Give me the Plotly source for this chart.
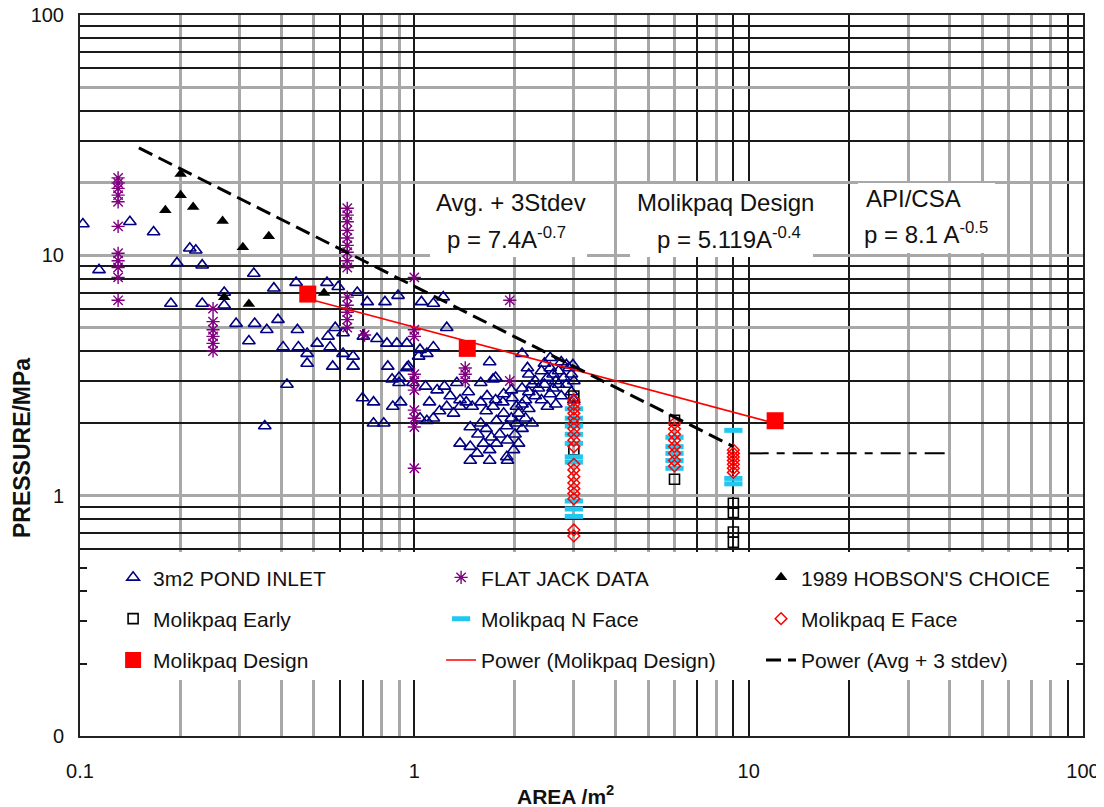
import plotly.graph_objects as go

# ---------------- data ----------------
pond_area = [0.102, 0.141, 0.166, 0.114, 0.195, 0.213, 0.222, 0.232, 0.331, 0.187,
             0.232, 0.27, 0.27, 0.38, 0.443, 0.548, 0.293, 0.333, 0.362, 0.391,
             0.447, 0.32, 0.405, 0.45, 0.478, 0.478, 0.512, 0.552, 0.56, 0.57,
             0.416, 0.357, 0.592, 0.675, 0.723, 0.817, 0.894, 0.58, 0.612, 0.612,
             0.656, 0.656, 0.704, 0.773, 0.828, 0.886, 0.95, 0.70, 0.755, 0.833,
             0.858, 0.9, 0.96, 0.862, 0.91, 0.755, 0.81, 1.03, 1.05, 1.14,
             1.22, 1.25, 1.04, 1.09, 1.14, 0.9, 0.95, 0.99, 1.08, 1.11,
             1.17, 1.23, 1.28, 1.34, 1.37, 1.45, 1.58, 1.72, 1.04, 1.09,
             1.14, 1.19, 1.25, 1.31, 1.37, 1.43, 1.49, 1.58, 1.64, 1.72,
             1.84, 1.96, 2.02, 1.37, 1.47, 1.54, 1.61, 1.68, 1.76, 1.89,
             1.98, 1.47, 1.58, 1.64, 1.76, 1.89, 2.02, 1.47, 1.68, 1.9,
             1.68, 1.75, 2.1, 2.18, 2.55, 2.98, 2.2, 2.3, 2.35, 2.4,
             2.45, 2.5, 2.55, 2.6, 2.6, 2.65, 2.7, 2.75, 2.8, 2.85,
             2.9, 2.95, 2.95, 3.0, 2.3, 2.4, 2.5, 2.2, 2.7, 2.85,
             2.45, 2.55, 2.75, 3.0, 2.65, 2.25, 2.15, 2.1, 1.65, 1.75,
             1.85, 1.95, 2.05, 2.1, 2.15, 2.2, 1.8, 1.9, 2.0, 2.1,
             1.7, 2.05, 1.55, 2.25, 1.95, 1.85]
pond_pressure = [13.5, 13.8, 12.5, 8.7, 9.3, 10.7, 10.5, 9.1, 8.4, 6.3,
                 6.3, 7.0, 6.2, 7.3, 7.7, 7.7, 5.2, 5.2, 4.9, 5.4,
                 4.9, 4.4, 4.15, 4.15, 3.9, 3.55, 4.3, 4.6, 4.15, 3.45,
                 2.9, 1.95, 7.4, 7.0, 6.4, 6.4, 6.8, 5.0, 4.75, 3.9,
                 3.8, 3.45, 4.6, 4.5, 4.3, 4.3, 4.3, 2.55, 2.45, 3.45,
                 3.05, 3.1, 3.45, 2.35, 2.45, 2.0, 2.0, 3.8, 6.4, 6.3,
                 6.7, 5.0, 4.05, 3.9, 4.15, 2.95, 3.4, 2.95, 2.85, 2.45,
                 2.75, 2.85, 2.6, 2.95, 2.5, 2.7, 2.95, 3.05, 2.1, 2.05,
                 2.1, 2.25, 2.35, 2.2, 2.35, 2.45, 2.35, 2.45, 2.25, 2.35,
                 2.45, 2.55, 2.35, 1.65, 1.6, 1.5, 1.65, 1.55, 1.65, 1.45,
                 1.55, 1.93, 2.0, 1.9, 2.05, 1.95, 2.0, 1.4, 1.4, 1.4,
                 3.6, 3.1, 3.9, 3.4, 3.75, 3.5, 3.2, 3.0, 2.8, 3.3,
                 2.9, 3.1, 3.4, 3.2, 2.8, 3.0, 3.3, 2.6, 3.1, 2.9,
                 3.4, 3.2, 2.7, 3.0, 2.6, 2.5, 2.35, 2.7, 2.9, 3.5,
                 3.55, 2.65, 3.6, 2.5, 2.4, 2.9, 2.5, 2.8, 2.6, 2.5,
                 2.2, 2.1, 2.2, 2.4, 2.1, 2.3, 1.8, 1.7, 1.8, 1.9,
                 1.75, 1.65, 1.8, 2.0, 2.75, 2.65]

flatjack_area = [0.13, 0.13, 0.13, 0.13, 0.13, 0.13, 0.13, 0.13, 0.13, 0.13, 0.13,
                 0.25, 0.25, 0.25, 0.25, 0.25, 0.25,
                 0.63, 0.63, 0.63, 0.63, 0.63, 0.63, 0.63, 0.63, 0.63, 0.63, 0.63, 0.63, 0.63, 0.63,
                 0.71,
                 1.0, 1.0, 1.0, 1.0, 1.0, 1.0, 1.0, 1.0, 1.0, 1.0,
                 1.42, 1.42, 1.42,
                 1.93, 1.93]
flatjack_pressure = [21.0, 20.0, 19.0, 17.8, 16.7, 13.2, 10.2, 9.5, 8.9, 8.1, 6.5,
                     6.0, 5.3, 4.9, 4.6, 4.3, 4.0,
                     15.7, 14.7, 13.8, 12.7, 11.8, 11.0, 10.3, 9.5, 8.9, 6.7, 6.2, 5.8, 5.4, 5.0,
                     4.66,
                     8.1, 4.9, 4.6, 3.2, 3.0, 2.75, 2.27, 2.1, 1.93, 1.30,
                     3.4, 3.2, 3.0,
                     6.5, 3.0]

hobson_area = [0.18, 0.2, 0.2, 0.218, 0.267, 0.307, 0.367, 0.27, 0.32, 0.537]
hobson_pressure = [15.4, 17.8, 21.8, 15.9, 13.9, 10.8, 12.0, 6.7, 6.27, 6.97]

early_area = [3, 3, 6, 6, 9, 9, 9, 9]
early_pressure = [2.6, 1.55, 2.06, 1.17, 0.93, 0.85, 0.706, 0.64]

nface_area = [3, 3, 3, 3, 3, 3, 3, 3, 3, 3, 6, 6, 6, 6, 6, 9, 9, 9]
nface_pressure = [2.3, 2.1, 1.95, 1.8, 1.65, 1.45, 1.38, 0.95, 0.88, 0.82,
                  1.75, 1.6, 1.5, 1.4, 1.3, 1.87, 1.18, 1.12]

eface_area = [3] * 19 + [6] * 8 + [9] * 7
eface_pressure = [2.5, 2.4, 2.3, 2.2, 2.1, 2.0, 1.9, 1.8, 1.7, 1.6,
                  1.35, 1.28, 1.2, 1.13, 1.07, 1.02, 0.97, 0.72, 0.68,
                  2.0, 1.9, 1.8, 1.7, 1.6, 1.5, 1.4, 1.33,
                  1.55, 1.5, 1.45, 1.4, 1.35, 1.3, 1.25]

design_area = [0.48, 1.44, 12.0]
design_pressure = [6.9, 4.1, 2.05]

trend_design_area = [0.48, 12.0]
trend_design_pressure = [6.6, 2.0]

trend_avg_area = [0.15, 9.0]
trend_avg_pressure = [28.0, 1.6]

api_ext_area = [10.0, 40.0]
api_ext_pressure = [1.5, 1.5]

x_black_grid = [0.1, 0.6, 0.7, 1, 7, 9, 10, 20, 90, 100]
x_black_text = ["0.1", "", "", "1", "", "", "10", "", "", "100"]
x_gray_grid = [0.2, 0.3, 0.4, 0.5, 0.8, 0.9, 2, 3, 4, 5, 6, 8, 30, 40, 50, 60, 70, 80]
y_gray_grid = [0.1, 1, 5, 10, 20, 50, 100]
y_gray_text = ["0", "1", "", "10", "", "", "100"]
y_black_grid = [0.2, 0.3, 0.4, 0.5, 0.6, 0.7, 0.8, 0.9, 2, 3, 4, 6, 7, 8, 9,
                30, 40, 60, 70, 80, 90]

FONT = "Liberation Sans, Arial, sans-serif"
TXT = "#111111"
BLACK_GRID = "#1a1a1a"
GRAY_GRID = "#a8a8a8"

fig = go.Figure()


def add(trace, legend):
    trace.legend = legend
    trace.legendgroup = trace.name
    fig.add_trace(trace)


add(go.Scatter(
    x=pond_area, y=pond_pressure, mode="markers", name="3m2 POND INLET",
    marker=dict(symbol="triangle-up-open", size=11, color="#000080",
                line=dict(width=1.6, color="#000080"))), "legend")
add(go.Scatter(
    x=flatjack_area, y=flatjack_pressure, mode="markers", name="FLAT JACK DATA",
    marker=dict(symbol="asterisk-open", size=11, color="#800080",
                line=dict(width=1.4, color="#800080"))), "legend2")
add(go.Scatter(
    x=hobson_area, y=hobson_pressure, mode="markers", name="1989 HOBSON'S CHOICE",
    marker=dict(symbol="triangle-up", size=11, color="#000000")), "legend3")
add(go.Scatter(
    x=early_area, y=early_pressure, mode="markers", name="Molikpaq Early",
    marker=dict(symbol="square-open", size=10, color="#000000",
                line=dict(width=1.6, color="#000000"))), "legend")
add(go.Scatter(
    x=nface_area, y=nface_pressure, mode="markers", name="Molikpaq N Face",
    marker=dict(symbol="line-ew", size=13, color="#22C7F0",
                line=dict(width=5, color="#22C7F0"))), "legend2")
add(go.Scatter(
    x=eface_area, y=eface_pressure, mode="markers", name="Molikpaq E Face",
    marker=dict(symbol="diamond-open", size=9, color="#FF0000",
                line=dict(width=1.5, color="#FF0000"))), "legend3")
add(go.Scatter(
    x=design_area, y=design_pressure, mode="markers", name="Molikpaq Design",
    marker=dict(symbol="square", size=17, color="#FF0000")), "legend")
add(go.Scatter(
    x=trend_design_area, y=trend_design_pressure, mode="lines", name="Power (Molikpaq Design)",
    line=dict(color="#FF0000", width=1.6)), "legend2")
add(go.Scatter(
    x=trend_avg_area, y=trend_avg_pressure, mode="lines", name="Power (Avg + 3 stdev)",
    line=dict(color="#000000", width=3, dash="15px,7px")), "legend3")
fig.add_trace(go.Scatter(
    x=api_ext_area, y=api_ext_pressure, mode="lines", showlegend=False,
    line=dict(color="#000000", width=2, dash="20px,8px,8px,8px")))

# white boxes (legend area and equation boxes); no data lies inside them
boxes = [
    (0.007, 0.993, 0.0777, 0.2552),
    (0.349, 0.5055, 0.6644, 0.7656),
    (0.5484, 0.7308, 0.6644, 0.7656),
    (0.7757, 0.9123, 0.6699, 0.7670),
]
for x0, x1, y0, y1 in boxes:
    fig.add_shape(type="rect", xref="paper", yref="paper", x0=x0, x1=x1, y0=y0, y1=y1,
                  fillcolor="white", line=dict(width=0), layer="above")

ann_font = dict(family=FONT, size=24, color=TXT)
notes = [
    ("Avg. + 3Stdev", 0.4297, 0.7393, "center"),
    ("p = 7.4A<sup>-0.7</sup>", 0.4257, 0.6907, "center"),
    ("Molikpaq Design", 0.644, 0.7393, "center"),
    ("p = 5.119A<sup>-0.4</sup>", 0.647, 0.6907, "center"),
    ("API/CSA", 0.7817, 0.7448, "left"),
    ("p = 8.1 A<sup>-0.5</sup>", 0.7797, 0.6976, "left"),
]
for text, x, y, anchor in notes:
    fig.add_annotation(text=text, xref="paper", yref="paper", x=x, y=y,
                       xanchor=anchor, yanchor="middle", showarrow=False, font=ann_font)

fig.add_annotation(text="<b>AREA /m<sup>2</sup></b>", xref="paper", yref="paper",
                   x=0.4845, y=-0.0818, xanchor="center", yanchor="middle",
                   showarrow=False, font=dict(family=FONT, size=21, color=TXT))
fig.add_annotation(text="<b>PRESSURE/MPa</b>", xref="paper", yref="paper",
                   x=-0.0578, y=0.3994, xanchor="center", yanchor="middle", textangle=-90,
                   showarrow=False, font=dict(family=FONT, size=23, color=TXT))

leg_common = dict(orientation="v", xanchor="left", yanchor="top", y=0.248,
                  tracegroupgap=11, bgcolor="rgba(0,0,0,0)", borderwidth=0,
                  font=dict(family=FONT, size=21, color=TXT), itemsizing="trace")

# the page body adds an 8px offset, so the figure is 8px smaller and shifted
fig.update_layout(
    width=1096, height=799,
    margin=dict(l=72, r=21, t=7, b=71),
    paper_bgcolor="white", plot_bgcolor="white",
    font=dict(family=FONT, size=20, color=TXT),
    legend=dict(x=0.033, **leg_common),
    legend2=dict(x=0.360, **leg_common),
    legend3=dict(x=0.679, **leg_common),
    xaxis=dict(type="log", range=[-1, 2], tickmode="array", automargin=False,
               tickvals=x_black_grid, ticktext=x_black_text, ticklabeloverflow="allow",
               showgrid=True, gridcolor=BLACK_GRID, gridwidth=1.6,
               minor=dict(tickmode="array", tickvals=x_gray_grid, showgrid=True,
                          gridcolor=GRAY_GRID, gridwidth=2.5),
               ticks="outside", ticklen=16, tickcolor="rgba(0,0,0,0)",
               showline=True, linecolor="#222222", linewidth=2, mirror=True,
               tickfont=dict(family=FONT, size=20, color=TXT), zeroline=False),
    yaxis=dict(type="log", range=[-1, 2], tickmode="array", automargin=False,
               tickvals=y_gray_grid, ticktext=y_gray_text, ticklabeloverflow="allow",
               showgrid=True, gridcolor=GRAY_GRID, gridwidth=2.5,
               minor=dict(tickmode="array", tickvals=y_black_grid, showgrid=True,
                          gridcolor=BLACK_GRID, gridwidth=1.6),
               ticks="outside", ticklen=10, tickcolor="rgba(0,0,0,0)",
               showline=True, linecolor="#222222", linewidth=2, mirror=True,
               tickfont=dict(family=FONT, size=20, color=TXT), zeroline=False),
)

fig.write_html("out.html")
